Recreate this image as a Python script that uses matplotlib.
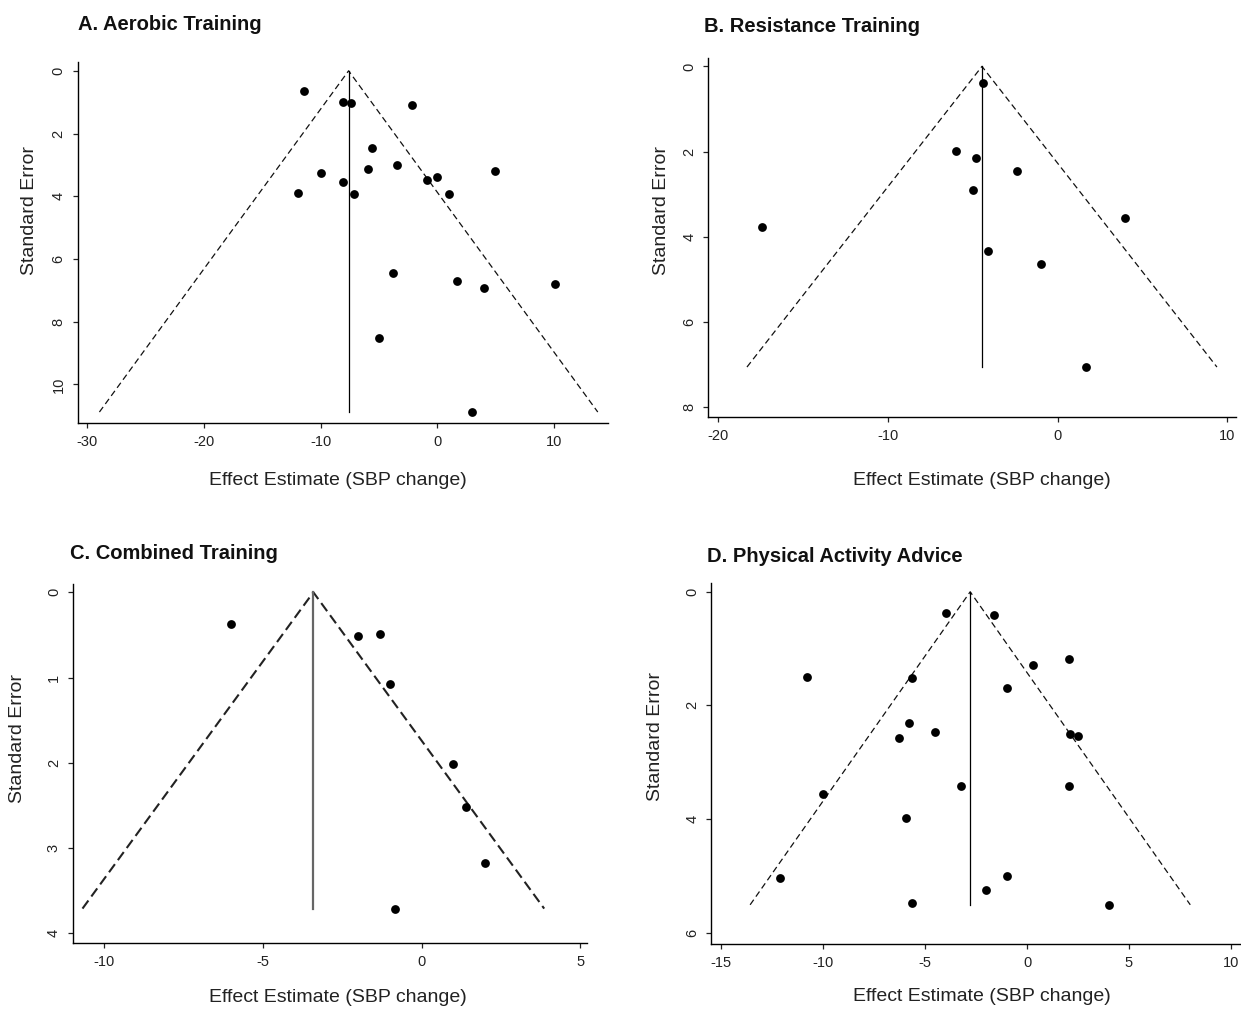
import matplotlib
matplotlib.use('Agg')
import matplotlib.pyplot as plt
import numpy as np

plt.rcParams['font.family'] = ['Liberation Sans', 'DejaVu Sans']
plt.rcParams['axes.unicode_minus'] = False

# A. Aerobic training
aerobic_est = [-11.4, -8.1, -7.4, -2.2, -5.6, -3.5, -5.9, -10.0, -8.1, -11.9, -7.1,
               -0.9, 0.0, 1.0, 4.9, -3.8, 1.7, 4.0, 10.1, -5.0, 3.0]
aerobic_se = [0.64, 0.99, 1.04, 1.08, 2.45, 2.99, 3.13, 3.27, 3.53, 3.89, 3.94,
              3.49, 3.38, 3.93, 3.18, 6.44, 6.71, 6.91, 6.80, 8.53, 10.88]
aerobic_pooled = -7.6

# B. Resistance training
resist_est = [-4.4, -6.0, -4.8, -2.4, -5.0, -17.4, 4.0, -4.1, -1.0, 1.7]
resist_se = [0.40, 1.99, 2.16, 2.46, 2.91, 3.77, 3.56, 4.34, 4.63, 7.06]
resist_pooled = -4.45

# C. Combined training
combined_est = [-6.0, -2.0, -1.3, -1.0, 1.0, 1.4, 2.0, -0.85]
combined_se = [0.375, 0.51, 0.485, 1.07, 2.01, 2.52, 3.17, 3.71]
combined_pooled = -3.41

# D. Physical activity advice
advice_est = [-4.0, -1.6, 2.05, 0.3, -10.8, -5.65, -1.0, -5.8, -4.5, -6.3, 2.1,
              2.5, -3.25, 2.05, -10.0, -5.95, -12.1, -1.0, -2.0, -5.65, 4.0]
advice_se = [0.38, 0.41, 1.19, 1.29, 1.50, 1.52, 1.70, 2.31, 2.47, 2.58, 2.50,
             2.53, 3.42, 3.41, 3.56, 3.98, 5.03, 5.01, 5.25, 5.48, 5.51]
advice_pooled = -2.79

titles = ['A. Aerobic Training', 'B. Resistance Training',
          'C. Combined Training', 'D. Physical Activity Advice']

W, H = 1241, 1009
fig = plt.figure(figsize=(W / 100, H / 100), dpi=100)
fig.patch.set_facecolor('white')


def px_axes(left, right, top, bottom):
    return fig.add_axes([left / W, 1 - bottom / H, (right - left) / W, (bottom - top) / H])


panels = [
    # est, se, pooled, axes box (px), xlim, ylim, xticks, yticks, title pos, ylabel pos, xlabel pos, style
    (aerobic_est, aerobic_se, aerobic_pooled, (77.5, 608, 61.7, 422.7),
     (-30.8, 14.6), (11.22, -0.29), [-30, -20, -10, 0, 10], [0, 2, 4, 6, 8, 10],
     (77.5, 25), (-0.09, 0.589), (0.491, -0.159), 'thin'),
    (resist_est, resist_se, resist_pooled, (708.2, 1236, 58.3, 417.3),
     (-20.57, 10.51), (8.24, -0.19), [-20, -10, 0, 10], [0, 2, 4, 6, 8],
     (704, 26.7), (-0.088, 0.577), (0.518, -0.175), 'thin'),
    (combined_est, combined_se, combined_pooled, (72.7, 587, 584, 943.3),
     (-10.99, 5.21), (4.117, -0.097), [-10, -5, 0, 5], [0, 1, 2, 3, 4],
     (69.6, 553.3), (-0.1065, 0.571), (0.516, -0.152), 'thick'),
    (advice_est, advice_se, advice_pooled, (711.4, 1240, 582.7, 944),
     (-15.49, 10.45), (6.2, -0.16), [-15, -10, -5, 0, 5, 10], [0, 2, 4, 6],
     (707.4, 556.7), (-0.1055, 0.574), (0.511, -0.146), 'thin'),
]

for title, (est, se, pooled, box, xlim, ylim, xt, yt, tpos, ylpos, xlpos, style) in zip(titles, panels):
    ax = px_axes(*box)
    m = max(se)
    # funnel: pooled +/- 1.96 * SE
    fx = [pooled - 1.96 * m, pooled, pooled + 1.96 * m]
    fy = [m, 0, m]
    if style == 'thick':
        ax.plot(fx, fy, color='#222222', lw=1.5, linestyle=(0, (4.8, 2.4)))
        ax.plot([pooled, pooled], [0, m], color='#666666', lw=1.6)
    else:
        ax.plot(fx, fy, color='#111111', lw=0.9, linestyle=(0, (5, 3)))
        ax.plot([pooled, pooled], [0, m], color='black', lw=0.9)
    ax.scatter(est, se, s=40, color='black', zorder=3, linewidths=0)

    ax.set_xlim(*xlim)
    ax.set_ylim(*ylim)
    ax.set_xticks(xt)
    ax.set_yticks(yt)
    ax.spines['top'].set_visible(False)
    ax.spines['right'].set_visible(False)
    for s in ('left', 'bottom'):
        ax.spines[s].set_linewidth(1.0)
    ax.tick_params(length=3.5, width=0.9, pad=5, labelsize=10.5, colors='#222222')
    for lab in ax.get_yticklabels():
        lab.set_rotation(90)
        lab.set_va('center')

    ax.set_xlabel('Effect Estimate (SBP change)', fontsize=14, color='#222222')
    ax.set_ylabel('Standard Error', fontsize=14, color='#222222')
    ax.xaxis.set_label_coords(*xlpos)
    ax.yaxis.set_label_coords(*ylpos)
    for lab in (ax.xaxis.label, ax.yaxis.label):
        lab.set_va('center')
        lab.set_ha('center')

    fig.text(tpos[0] / W, 1 - tpos[1] / H, title, fontsize=14.5, fontweight='bold',
             ha='left', va='center', color='#111111')

fig.savefig('out.png', dpi=100, facecolor='white')
